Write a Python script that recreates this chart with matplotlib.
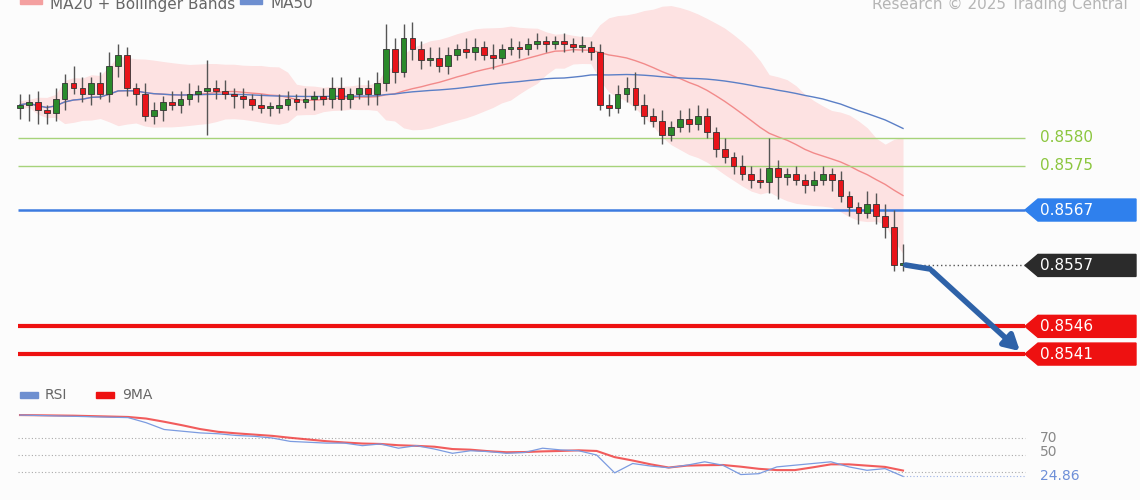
import numpy as np
import pandas as pd
import matplotlib
matplotlib.use("Agg")
import matplotlib.pyplot as plt

# ---- data (prices in pips above 0.8500) ----
closes = [86, 86.5, 85, 84.5, 87, 90, 89, 88, 90, 88, 93, 95, 89, 88, 84, 85, 86.5, 86, 87, 88,
          88.5, 89, 88.5, 88, 87.5, 87, 86, 85.5, 85.5, 86, 87, 86.5, 87, 87.5, 87, 89, 87, 88, 89, 88,
          90, 96, 92, 98, 96, 94, 94.5, 93, 95, 96, 95.5, 96.5, 95, 94.5, 96, 96.5, 96, 97, 97.5, 97,
          97.5, 97, 96.5, 96.5, 95.5, 86, 85.5, 88, 89, 86, 84, 83, 80.5, 82, 83.5, 82.5, 84, 81, 78, 76.5,
          75, 73.5, 72.5, 72, 74.5, 73, 73.5, 72.5, 71.5, 72.5, 73.5, 72.5, 69.5, 67.5, 66.5, 68, 66, 64, 57, 57.4]
upper_wick = [2, 1.5, 2, 1, 2, 1.5, 3, 2, 1, 2, 2.5, 2, 1.5, 1, 2, 1.5, 1, 2, 1.5, 2,
              1, 5, 1.5, 2, 1, 1.5, 1, 2, 1, 2, 1.5, 1, 2, 1, 1.5, 2, 2, 1, 2, 1.5,
              2, 4.5, 2, 2.5, 3, 1.5, 2, 2, 1.5, 1, 2, 1.5, 1, 2, 1, 1.5, 1, 1, 1.5, 1,
              1, 1.5, 1, 2, 1, 1.5, 2, 1.5, 2, 3, 2, 1.5, 2, 1, 1.5, 2, 2, 1.5, 1, 2,
              1, 2, 1.5, 2, 5.5, 1.5, 1, 1.5, 1, 1.5, 1.5, 1, 1.5, 1, 1, 2.5, 2, 2, 3, 3.5]
lower_wick = [2, 3, 2.5, 2, 1.5, 2, 1, 1.5, 2, 1, 1.5, 2, 1.5, 2, 1, 1.5, 2, 1, 1.5, 1,
              1.5, 8, 1.5, 1, 2, 1.5, 1, 1, 1.5, 1, 1, 1.5, 1, 2, 1, 1.5, 2, 1.5, 1, 2,
              2, 1.5, 2, 1, 2, 1.5, 1, 1, 1.5, 1, 1, 1.5, 1, 2, 1, 1, 1.5, 1, 1, 1.5,
              1, 1.5, 1, 1, 1.5, 1, 1.5, 1, 1.5, 1, 1.5, 1, 1.5, 1, 1, 1.5, 1, 1, 1.5, 1,
              1.5, 1, 1.5, 1, 2, 4, 1.5, 1, 1.5, 1, 1, 2, 1, 1.5, 2, 1, 1.5, 2, 1, 1]
rsi = [97, 96.5, 96, 95.5, 95, 94.5, 94, 88, 80, 78, 76, 75, 73, 72, 70, 66, 65, 64, 64, 61,
       63, 58, 61, 57, 52, 55, 54, 52, 53, 58, 56, 55, 50, 29, 40, 37, 35, 38, 42, 38,
       27, 28, 36, 38, 40, 42, 36, 32, 34, 24.86]

levels_green = [0.8580, 0.8575]
level_blue = 0.8567
level_last = 0.8557
levels_red = [0.8546, 0.8541]

# ---- layout helpers (pixel based, 1140x500) ----
N = len(closes)
sp = 883 / (N - 1)
W, H = 1140, 500
px_per_price = 55400.0
y_top_price = 0.8580 + 138 / px_per_price
main_bottom_px = 378
y_bot_price = y_top_price - main_bottom_px / px_per_price


def xi(px):
    return (px - 20) / sp


def py(y):
    return y_top_price - y / px_per_price


c = 0.85 + np.array(closes) / 10000
o = np.concatenate([[c[0] - 0.00005], c[:-1]])
hi = np.maximum(o, c) + np.array(upper_wick) / 10000
lo = np.minimum(o, c) - np.array(lower_wick) / 10000
idx = np.arange(N)

s = pd.Series(c)
ma20 = s.rolling(20, min_periods=1).mean()
sd20 = s.rolling(20, min_periods=2).std().bfill()
ma50 = s.rolling(50, min_periods=1).mean()

fig = plt.figure(figsize=(11.4, 5.0), dpi=100, facecolor="#fcfcfc")
ax = fig.add_axes([0, 1 - main_bottom_px / H, 1, main_bottom_px / H])
ax.set_facecolor("#fcfcfc")
ax.set_xlim(xi(0), xi(W))
ax.set_ylim(y_bot_price, y_top_price)
ax.axis("off")

ax.fill_between(idx, ma20 - 2 * sd20, ma20 + 2 * sd20, color="#fde2e2", lw=0, zorder=1)
ax.plot(idx, ma20, color="#f28a8a", lw=1, zorder=2)
ax.plot(idx, ma50, color="#5b7fc6", lw=1, zorder=2)

for i in range(N):
    up = c[i] >= o[i]
    ax.vlines(i, lo[i], hi[i], color="#555555", lw=1, zorder=3)
    b0, b1 = min(o[i], c[i]), max(o[i], c[i])
    if b1 - b0 < 0.00003:
        b1 = b0 + 0.00003
    ax.bar(i, b1 - b0, bottom=b0, width=0.65, color="#2b8a2b" if up else "#e8141a",
           edgecolor="#333333", lw=0.6, zorder=4)

x0, x1 = xi(18), xi(1025)
for lv in levels_green:
    ax.hlines(lv, x0, x1, color="#a6d37a", lw=1, zorder=2)
    ax.text(xi(1040), lv, f"{lv:.4f}", color="#8cc63f", fontsize=11, va="center", ha="left")
ax.hlines(level_blue, x0, x1, color="#3d7be0", lw=1.8, zorder=2)
for lv in levels_red:
    ax.hlines(lv, x0, x1, color="#ee1111", lw=3, zorder=2)
ax.hlines(level_last, N - 1, x1, color="#555555", lw=1, ls=(0, (1, 2)), zorder=2)


def tag(lv, color):
    h = 11 / px_per_price
    xs = [xi(1025), xi(1038), xi(1136), xi(1136), xi(1038)]
    ys = [lv, lv + h, lv + h, lv - h, lv - h]
    ax.fill(xs, ys, color=color, zorder=5)
    ax.text(xi(1040), lv, f"{lv:.4f}", color="white", fontsize=11, va="center", ha="left", zorder=6)


tag(level_blue, "#2f80ed")
tag(level_last, "#2b2b2b")
for lv in levels_red:
    tag(lv, "#ee1111")

# forecast arrow
ax.plot([N - 1 + 0.3, xi(930)], [py(265), py(269)], color="#2e62a8", lw=4, solid_capstyle="round", zorder=6)
ax.annotate("", xy=(xi(1022), py(353)), xytext=(xi(930), py(269)),
            arrowprops=dict(arrowstyle="-|>,head_width=0.5,head_length=0.9", color="#2e62a8", lw=4),
            zorder=6)

# top legend / credit (partially cut off, as in the original)
fig.patches.append(plt.Rectangle((20 / W, 1 - 4 / H), 22 / W, 6 / H, transform=fig.transFigure,
                                 color="#f4a0a0", figure=fig))
fig.text(50 / W, 1 - 4 / H, "MA20 + Bollinger Bands", fontsize=11, color="#666666", va="center")
fig.patches.append(plt.Rectangle((240 / W, 1 - 4 / H), 22 / W, 6 / H, transform=fig.transFigure,
                                 color="#6e8fd0", figure=fig))
fig.text(270 / W, 1 - 4 / H, "MA50", fontsize=11, color="#666666", va="center")
fig.text(1128 / W, 1 - 4 / H, "Research © 2025 Trading Central", fontsize=11, color="#b5b5b5",
         va="center", ha="right")

# ---- RSI panel ----
rsi_top, rsi_bot = 385, 500


def rv(y):
    return 70 - (y - 438) / 0.85


ax2 = fig.add_axes([0, 0, 1, (rsi_bot - rsi_top) / H])
ax2.set_facecolor("#fcfcfc")
ax2.set_xlim(xi(0), xi(W))
ax2.set_ylim(rv(rsi_bot), rv(rsi_top))
ax2.axis("off")
rx = np.linspace(0, N - 1, len(rsi))
rma = pd.Series(rsi).rolling(4, min_periods=1).mean()
for lv in [70, 50, 30]:
    ax2.hlines(lv, xi(18), xi(1025), color="#aaaaaa", lw=0.8, ls=(0, (1, 2)))
ax2.hlines(rsi[-1], N - 1, xi(1025), color="#9db3e6", lw=0.8, ls=(0, (1, 2)))
ax2.plot(rx, rma, color="#f04040", lw=1.5, alpha=0.85)
ax2.plot(rx, rsi, color="#7b9be0", lw=0.9)
ax2.text(xi(1040), 70, "70", color="#888888", fontsize=10, va="center")
ax2.text(xi(1040), 53, "50", color="#888888", fontsize=10, va="center")
ax2.text(xi(1040), rsi[-1], f"{rsi[-1]:.2f}", color="#6d8fd8", fontsize=10, va="center")
ax2.add_patch(plt.Rectangle((xi(20), rv(398)), 18 / sp, 6 / 0.85, color="#6e8fd0"))
ax2.text(xi(45), rv(395), "RSI", fontsize=10, color="#666666", va="center")
ax2.add_patch(plt.Rectangle((xi(96), rv(398)), 18 / sp, 6 / 0.85, color="#ee1111"))
ax2.text(xi(122), rv(395), "9MA", fontsize=10, color="#666666", va="center")

fig.savefig("out.png", dpi=100, facecolor=fig.get_facecolor())
